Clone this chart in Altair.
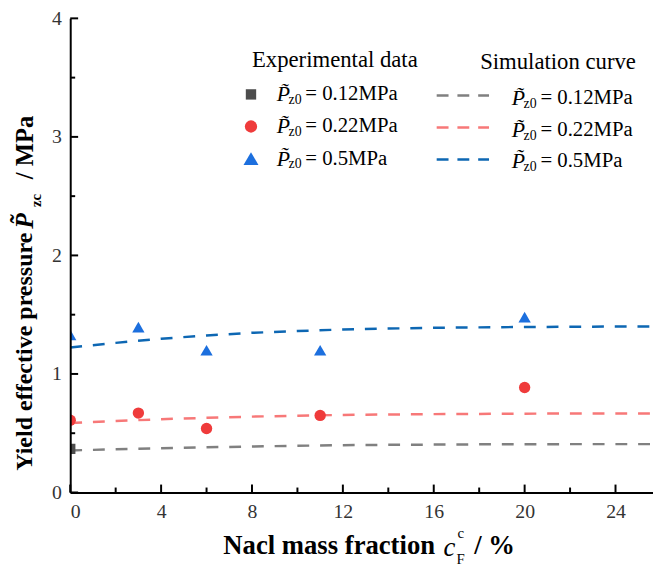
import altair as alt
import pandas as pd

# ---------------- data ----------------
series = ["0.12MPa", "0.22MPa", "0.5MPa"]

exp_x_012 = [0]
exp_y_012 = [0.368]
exp_x = [0, 3, 6, 11, 20]
exp_y_022 = [0.609, 0.670, 0.540, 0.650, 0.886]
exp_y_05 = [1.330, 1.395, 1.200, 1.200, 1.480]

sim_x = [0, 2, 4, 6, 8, 10, 12, 14, 16, 18, 20, 22, 24, 25.65]
sim_y_012 = [0.355, 0.364, 0.373, 0.381, 0.388, 0.394, 0.399, 0.402, 0.404, 0.406, 0.407, 0.408, 0.408, 0.408]
sim_y_022 = [0.587, 0.603, 0.618, 0.630, 0.640, 0.648, 0.654, 0.658, 0.661, 0.663, 0.665, 0.666, 0.667, 0.667]
sim_y_05 = [1.223, 1.262, 1.297, 1.325, 1.347, 1.362, 1.375, 1.383, 1.389, 1.393, 1.396, 1.398, 1.400, 1.401]

x_major = [0, 4, 8, 12, 16, 20, 24]
x_minor = [2, 6, 10, 14, 18, 22]
y_major = [0, 1, 2, 3, 4]
y_minor = [0.5, 1.5, 2.5, 3.5]

# ---------------- styling ----------------
W, H = 590, 480
XMAX = 25.65
FONT = "Liberation Serif"
pt_colors = ["#4d4d4d", "#ef3b3b", "#1c6fde"]
ln_colors = ["#808080", "#f77878", "#0d67b3"]
shapes = ["square", "circle", "triangle-up"]
pt_sizes = [110, 155, 230]

xs = alt.Scale(domain=[0, XMAX], nice=False, zero=False)
ys = alt.Scale(domain=[0, 4], nice=False)

sim_df = pd.concat([
    pd.DataFrame({"x": sim_x, "y": ys_, "s": s})
    for ys_, s in zip([sim_y_012, sim_y_022, sim_y_05], series)
])
exp_df = pd.concat([
    pd.DataFrame({"x": exp_x_012, "y": exp_y_012, "p": series[0]}),
    pd.DataFrame({"x": exp_x, "y": exp_y_022, "p": series[1]}),
    pd.DataFrame({"x": exp_x, "y": exp_y_05, "p": series[2]}),
])

axis_common = dict(ticks=False, tickSize=0, title=None, grid=False, format="d",
                   domainColor="black", domainWidth=2, labelFont=FONT, labelFontSize=20,
                   labelColor="#333", zindex=1)
base_x = alt.X("x:Q", scale=xs, axis=alt.Axis(values=x_major, labelPadding=9, **axis_common))
base_y = alt.Y("y:Q", scale=ys, axis=alt.Axis(values=y_major, labelPadding=9, **axis_common))

lines = alt.Chart(sim_df).mark_line(strokeWidth=2.5, strokeDash=[12, 11], clip=True).encode(
    x=base_x, y=base_y,
    color=alt.Color("s:N", scale=alt.Scale(domain=series, range=ln_colors), legend=None),
    detail="s:N",
)

points = alt.Chart(exp_df).mark_point(filled=True, opacity=1, clip=True).encode(
    x=alt.X("x:Q", scale=xs), y=alt.Y("y:Q", scale=ys),
    fill=alt.Fill("p:N", scale=alt.Scale(domain=series, range=pt_colors), legend=None),
    shape=alt.Shape("p:N", scale=alt.Scale(domain=series, range=shapes), legend=None),
    size=alt.Size("p:N", scale=alt.Scale(domain=series, range=pt_sizes), legend=None),
)

# inward ticks
def xticks(vals, length):
    return alt.Chart(pd.DataFrame({"x": vals})).mark_rule(color="black", strokeWidth=2).encode(
        x=alt.X("x:Q", scale=xs), y=alt.value(H), y2=alt.value(H - length))

def yticks(vals, length):
    return alt.Chart(pd.DataFrame({"y": vals})).mark_rule(color="black", strokeWidth=2).encode(
        y=alt.Y("y:Q", scale=ys), x=alt.value(0), x2=alt.value(length))

ticks = [xticks(x_major, 8), xticks(x_minor, 5), yticks(y_major, 8), yticks(y_minor, 5)]

# ---------------- custom legend ----------------
def txt(s, x, y, size, weight="normal", style="normal", angle=0, align="left", color="black"):
    return alt.Chart(pd.DataFrame({"t": [s]})).mark_text(
        font=FONT, fontSize=size, fontWeight=weight, fontStyle=style, angle=angle,
        align=align, baseline="middle", color=color).encode(
        text="t:N", x=alt.value(x), y=alt.value(y))

OX, OY = 71, 15  # page offset of plot origin
legend = []
legend.append(txt("Experimental data", 255 - OX, 57 - OY, 23))
legend.append(txt("Simulation curve", 486 - OX, 59 - OY, 23))
exp_rows = [92, 124.5, 157]
sim_rows = [96, 128.5, 159.5]
line_rows = [93, 125.5, 158]
for i, s in enumerate(series):
    legend.append(alt.Chart(pd.DataFrame({"s": [s]})).mark_point(
        filled=True, opacity=1, shape=shapes[i], color=pt_colors[i], size=pt_sizes[i]).encode(
        x=alt.value(254 - OX), y=alt.value(exp_rows[i] - OY)))
    legend.append(alt.Chart(pd.DataFrame({"s": [s]})).mark_rule(
        color=ln_colors[i], strokeWidth=2.5, strokeDash=[12, 9]).encode(
        x=alt.value(442 - OX), x2=alt.value(495 - OX), y=alt.value(line_rows[i] - OY)))
    for (x0, yr) in [(280, exp_rows[i]), (518, sim_rows[i])]:
        legend.append(txt("P\u0303", x0 - OX, yr - OY, 22, style="italic"))
        legend.append(txt("z0", x0 + 12 - OX, yr + 6 - OY, 14))
        legend.append(txt("= " + s.replace("MPa", "") + "MPa", x0 + 29 - OX, yr - OY, 21))

# ---------------- axis titles ----------------
titles = []
# y title (rotated)
titles.append(txt("Yield effective pressure", 25 - OX, 473 - OY, 24.3, weight="bold", angle=270))
titles.append(txt("P\u0303", 25 - OX, 228 - OY, 26, weight="bold", style="italic", angle=270))
titles.append(txt("zc", 36 - OX, 206 - OY, 15, weight="bold", angle=270))
titles.append(txt("/ MPa", 25 - OX, 178 - OY, 25, weight="bold", angle=270))
# x title
titles.append(txt("Nacl mass fraction", 226 - OX, 549 - OY, 27, weight="bold"))
titles.append(txt("c", 449 - OX, 551 - OY, 27, style="italic"))
titles.append(txt("c", 463 - OX, 536 - OY, 15))
titles.append(txt("F", 462 - OX, 562 - OY, 15))
titles.append(txt("/ %", 480 - OX, 549 - OY, 27, weight="bold"))

chart = alt.layer(lines, points, *ticks, *legend, *titles).resolve_scale(
    color="independent").properties(
    width=W, height=H,
    autosize=alt.AutoSizeParams(type="none"),
    padding={"left": 63, "top": 7, "right": 0, "bottom": 75},
    background="white",
).configure_view(stroke=None)

chart.save("out.html", embed_options={"renderer": "svg", "actions": False})
